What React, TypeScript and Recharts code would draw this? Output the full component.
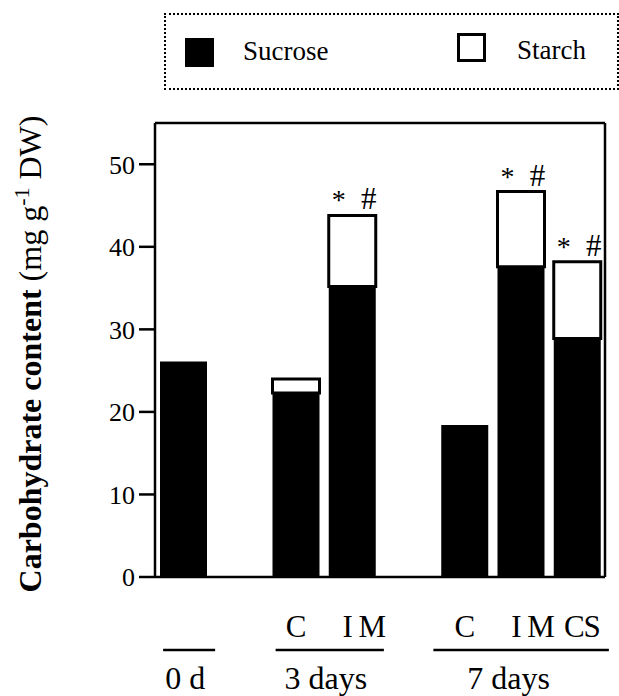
import { BarChart, Bar, XAxis, YAxis, ReferenceLine, LabelList } from "recharts";

const slotIds = ["s0", "s1", "s2", "s3", "s4", "s5", "s6", "s7"];
const tickLabels = ["", "", "C", "I M", "", "C", "I M", "CS"];
const sucrose = [26.1, null, 22.3, 35.2, null, 18.4, 37.6, 28.9];
const starch = [null, null, 1.7, 8.6, null, null, 9.1, 9.3];
const marks = ["", "", "", "*#", "", "", "*#", "*#"];
const groups = [
  { label: "0 d", from: 0, to: 0 },
  { label: "3 days", from: 2, to: 3 },
  { label: "7 days", from: 5, to: 7 },
];
const yTicks = [0, 10, 20, 30, 40, 50];

const data = slotIds.map((id, i) => ({
  id,
  sucrose: sucrose[i],
  starch: starch[i],
  mark: marks[i],
}));

const FONT = "'Liberation Serif', 'Times New Roman', serif";
const BAND = 450 / slotIds.length;

function SlotTick(props: any) {
  const { x, y, payload } = props;
  const i = slotIds.indexOf(payload.value);
  const label = tickLabels[i];
  const group = groups.find((g) => g.from === i);
  const span = group ? (group.to - group.from) * BAND : 0;
  return (
    <g fontFamily={FONT} fill="#000">
      {label && (
        <text
          x={x + (label === "I M" ? 12 : label === "CS" ? 5 : 0)}
          y={y + 60}
          textAnchor="middle"
          fontSize={31}
          letterSpacing={-1}
        >
          {label}
        </text>
      )}
      {group && (
        <g>
          <line
            x1={x - (group.to > group.from + 1 ? 31 : 20)}
            x2={x + span + 32}
            y1={y + 73}
            y2={y + 73}
            stroke="#000"
            strokeWidth={2.5}
          />
          <text
            x={x + (group.to > group.from + 1 ? span / 2 - 12 : span / 2 + 2)}
            y={y + 112}
            textAnchor="middle"
            fontSize={32}
          >
            {group.label}
          </text>
        </g>
      )}
    </g>
  );
}

function YLabel(props: any) {
  const { viewBox } = props;
  const cx = 41;
  const cy = viewBox.y + viewBox.height / 2 + 4;
  return (
    <text
      x={cx}
      y={cy}
      transform={`rotate(-90, ${cx}, ${cy})`}
      textAnchor="middle"
      fontFamily={FONT}
      fontSize={32}
      fill="#000"
    >
      <tspan fontWeight="bold">Carbohydrate content </tspan>
      <tspan>(mg g</tspan>
      <tspan dy={-12} fontSize={22}>-1</tspan>
      <tspan dy={12}> DW)</tspan>
    </text>
  );
}

function Marks(props: any) {
  const { x, y, width, value } = props;
  if (!value) return null;
  return (
    <g fontFamily={FONT} fill="#000">
      <text x={x + 10} y={y - 6} textAnchor="middle" fontSize={28}>
        *
      </text>
      <text x={x + width - 7} y={y - 6} textAnchor="middle" fontSize={31}>
        #
      </text>
    </g>
  );
}

function LegendBox() {
  return (
    <div
      style={{
        position: "absolute",
        left: 164,
        top: 13,
        width: 451,
        height: 73,
        border: "2px dotted #000",
        fontFamily: FONT,
        fontSize: 27,
      }}
    >
      <div style={{ position: "absolute", left: 19, top: 23, width: 29, height: 29, background: "#000" }} />
      <div style={{ position: "absolute", left: 77, top: 21 }}>Sucrose</div>
      <div
        style={{
          position: "absolute",
          left: 291,
          top: 18,
          width: 23,
          height: 23,
          border: "3px solid #000",
        }}
      />
      <div style={{ position: "absolute", left: 351, top: 20 }}>Starch</div>
    </div>
  );
}

export default function App() {
  return (
    <div style={{ position: "absolute", left: 0, top: 0, width: 619, height: 696, background: "#fff" }}>
      <LegendBox />
      <BarChart
        width={619}
        height={696}
        data={data}
        margin={{ top: 123, right: 0, bottom: 0, left: 0 }}
        barCategoryGap={0}
        barSize={47}
      >
        <XAxis
          dataKey="id"
          type="category"
          height={119}
          axisLine={{ stroke: "#000", strokeWidth: 2.5 }}
          tickLine={false}
          tickSize={0}
          tickMargin={0}
          tick={<SlotTick />}
          interval={0}
        />
        <YAxis
          yAxisId="left"
          width={155}
          domain={[0, 55]}
          ticks={yTicks}
          allowDataOverflow
          axisLine={{ stroke: "#000", strokeWidth: 2.5 }}
          tickLine={{ stroke: "#000", strokeWidth: 2.5 }}
          tickSize={16}
          tickMargin={4}
          tick={{ fill: "#000", fontSize: 26, fontFamily: FONT }}
          label={<YLabel />}
        />
        <YAxis
          yAxisId="right"
          orientation="right"
          width={14}
          domain={[0, 55]}
          ticks={yTicks}
          allowDataOverflow
          axisLine={{ stroke: "#000", strokeWidth: 2.5 }}
          tickLine={{ stroke: "#000", strokeWidth: 2.5 }}
          tickSize={14}
          tick={false}
        />
        <ReferenceLine yAxisId="left" y={55} stroke="#000" strokeWidth={2.5} />
        <Bar
          yAxisId="left"
          dataKey="sucrose"
          stackId="a"
          fill="#000"
          isAnimationActive={false}
        />
        <Bar
          yAxisId="left"
          dataKey="starch"
          stackId="a"
          fill="#fff"
          stroke="#000"
          strokeWidth={3}
          isAnimationActive={false}
        >
          <LabelList dataKey="mark" content={<Marks />} />
        </Bar>
      </BarChart>
    </div>
  );
}
